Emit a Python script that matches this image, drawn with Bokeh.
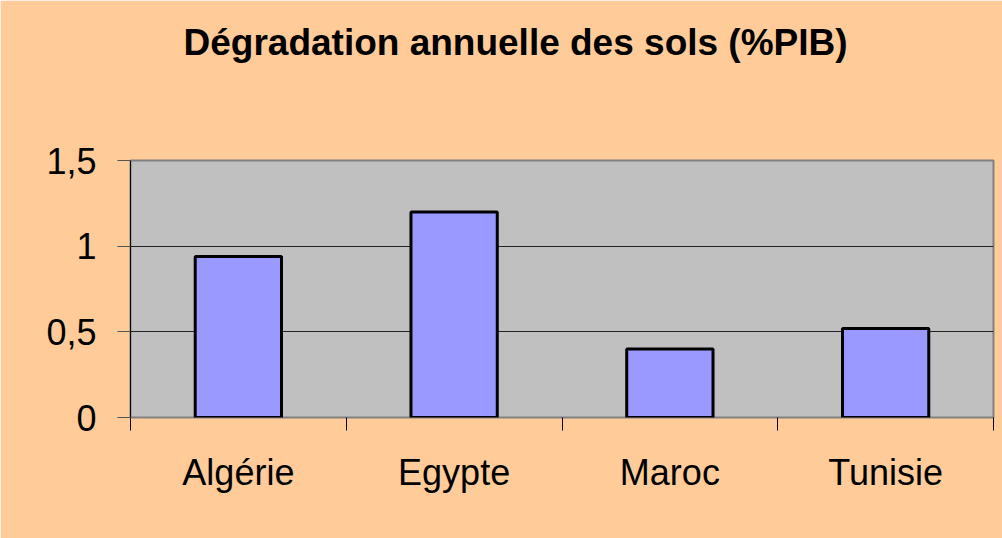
from bokeh.plotting import figure
from bokeh.models import FixedTicker, Title, Range1d
from bokeh.embed import file_html
from bokeh.resources import INLINE

# ---- data ----
categories = ["Algérie", "Egypte", "Maroc", "Tunisie"]
values = [0.94, 1.2, 0.4, 0.52]
y_ticks = [0, 0.5, 1, 1.5]
y_tick_labels = ["0", "0,5", "1", "1,5"]
title_text = "Dégradation annuelle des sols (%PIB)"

n = len(categories)
centers = [i + 0.5 for i in range(n)]
boundaries = list(range(n + 1))

FONT = "Liberation Sans"

p = figure(width=1002, height=538,
           x_range=Range1d(0, n), y_range=Range1d(0, 1.5),
           output_backend="svg", toolbar_location=None,
           min_border_left=130, min_border_right=9,
           min_border_top=160, min_border_bottom=121)
p.background_fill_color = "#C0C0C0"
p.border_fill_color = "#FFCC99"
p.outline_line_color = "#808080"
p.outline_line_width = 2

p.vbar(x=centers, top=values, width=0.4, bottom=0,
       fill_color="#9999FF", line_color="black", line_width=3)

# grid
p.xgrid.visible = False
p.ygrid.ticker = FixedTicker(ticks=y_ticks)
p.ygrid.grid_line_color = "#222222"
p.ygrid.grid_line_width = 1

# x axis
xa = p.xaxis[0]
xa.ticker = FixedTicker(ticks=centers, minor_ticks=boundaries)
xa.major_label_overrides = {c: lab for c, lab in zip(centers, categories)}
xa.major_tick_line_color = None
xa.major_tick_in = 0
xa.major_tick_out = 0
xa.minor_tick_in = 0
xa.minor_tick_out = 13
xa.minor_tick_line_color = "black"
xa.minor_tick_line_width = 1
xa.axis_line_color = None
xa.major_label_standoff = 21
xa.major_label_text_font = FONT
xa.major_label_text_font_size = "36px"
xa.major_label_text_color = "black"

# y axis
ya = p.yaxis[0]
ya.ticker = FixedTicker(ticks=y_ticks, minor_ticks=[])
ya.major_label_overrides = {t: lab for t, lab in zip(y_ticks, y_tick_labels)}
ya.major_tick_in = 0
ya.major_tick_out = 13
ya.major_tick_line_color = "#555555"
ya.minor_tick_line_color = None
ya.axis_line_color = "black"
ya.axis_line_width = 1
ya.major_label_standoff = 21
ya.major_label_text_font = FONT
ya.major_label_text_font_size = "36px"
ya.major_label_text_color = "black"

# spacer between title and plot frame, then the title itself
p.add_layout(Title(text=" ", standoff=82, text_font=FONT, text_font_size="10px"), "above")
p.add_layout(Title(text=title_text, align="left", offset=53,
                   vertical_align="top", standoff=2,
                   text_font=FONT, text_font_size="37px", text_font_style="bold",
                   text_color="black"), "above")

open("out.html", "w", encoding="utf-8").write(file_html(p, INLINE))
